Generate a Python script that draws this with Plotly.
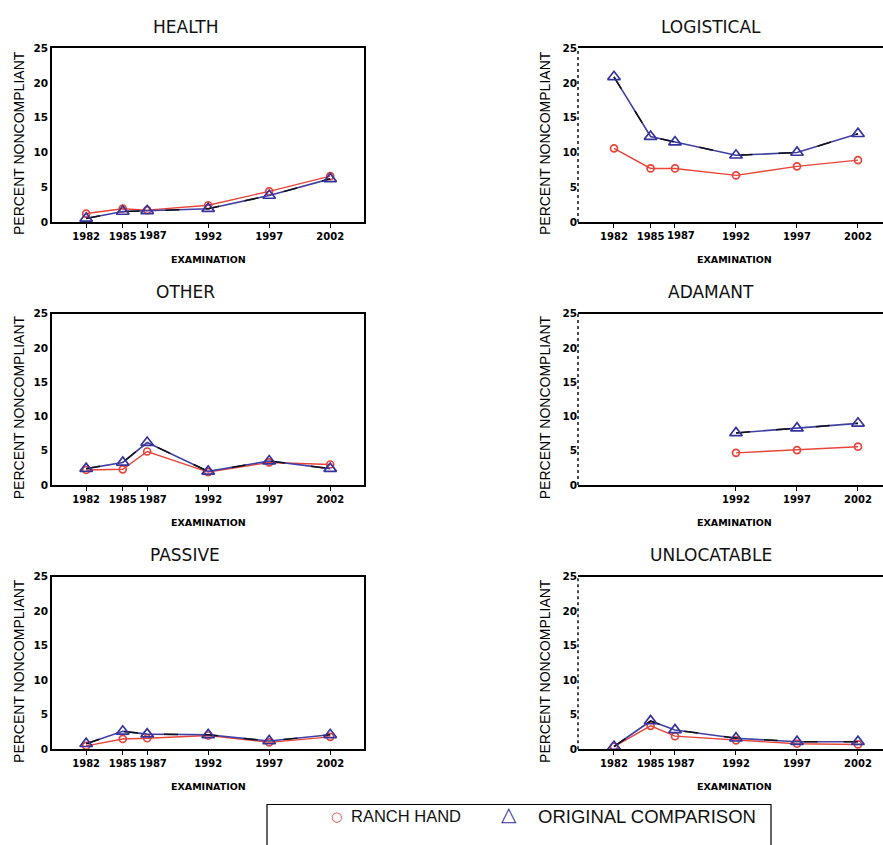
import plotly.graph_objects as go

W, H = 883, 845

# ---------------- data ----------------
years = [1982, 1985, 1987, 1992, 1997, 2002]
adamant_years = [1992, 1997, 2002]
y_ticks = [0, 5, 10, 15, 20, 25]

health_rh = [1.2, 1.9, 1.7, 2.4, 4.4, 6.6]
health_oc = [0.5, 1.5, 1.6, 1.9, 3.8, 6.2]
logistical_rh = [10.6, 7.7, 7.7, 6.7, 8.0, 8.9]
logistical_oc = [20.9, 12.3, 11.5, 9.6, 10.0, 12.7]
other_rh = [2.2, 2.3, 4.9, 1.9, 3.3, 3.0]
other_oc = [2.4, 3.3, 6.2, 2.0, 3.5, 2.4]
adamant_rh = [4.7, 5.1, 5.6]
adamant_oc = [7.6, 8.3, 9.0]
passive_rh = [0.5, 1.5, 1.6, 2.0, 1.0, 1.8]
passive_oc = [0.8, 2.6, 2.2, 2.1, 1.2, 2.1]
unloc_rh = [0.4, 3.4, 1.9, 1.3, 0.8, 0.7]
unloc_oc = [0.4, 4.1, 2.8, 1.6, 1.1, 1.1]

titles = ["HEALTH", "LOGISTICAL", "OTHER", "ADAMANT", "PASSIVE", "UNLOCATABLE"]
series_rh = [health_rh, logistical_rh, other_rh, adamant_rh, passive_rh, unloc_rh]
series_oc = [health_oc, logistical_oc, other_oc, adamant_oc, passive_oc, unloc_oc]
series_x = [years, years, years, adamant_years, years, years]

rh_name = "RANCH HAND"
oc_name = "ORIGINAL COMPARISON"
y_title = "PERCENT NONCOMPLIANT"
x_title = "EXAMINATION"
NUDGED_YEAR = 1987  # its label sits a little right of its tick in the original

# ---------------- layout geometry (pixels) ----------------
RED = "#e8453a"
BLUE = "#34349c"
LINE_OC = "#4040a4"

col_px = {0: (52, 364), 1: (578, 883)}
col_range = {0: [1979.2, 2004.77], 1: [1979.05, 2004.05]}
row_px = [(43, 219), (312, 486), (579, 754)]


def px_x(p):
    return p / W


def px_y(p):
    return 1 - p / H


fig = go.Figure()
layout = dict(
    width=W, height=H,
    margin=dict(l=0, r=0, t=0, b=0),
    paper_bgcolor="white", plot_bgcolor="white",
    showlegend=False,
    font=dict(family="Liberation Sans, Arial, sans-serif", color="black"),
)
annotations = []
shapes = []

xtick_font = dict(family="DejaVu Sans", size=10, color="black", weight="bold")
ytick_font = dict(family="DejaVu Sans", size=10.5, color="black", weight="bold")

for i in range(6):
    row, col = divmod(i, 2)
    n = "" if i == 0 else str(i + 1)
    xa, ya = "x" + n, "y" + n
    x0p, x1p = col_px[col]
    top, bot = row_px[row]
    xs = series_x[i]

    fig.add_trace(go.Scatter(
        x=xs, y=series_rh[i], xaxis=xa, yaxis=ya, name=rh_name,
        mode="lines+markers",
        line=dict(color=RED, width=1.4),
        marker=dict(symbol="circle-open", size=7, color=RED, line=dict(width=1.7, color=RED)),
    ))
    # comparison: blue line with black dash segments over it, then triangles
    fig.add_trace(go.Scatter(
        x=xs, y=series_oc[i], xaxis=xa, yaxis=ya, name=oc_name,
        mode="lines", line=dict(color=LINE_OC, width=1.6),
    ))
    fig.add_trace(go.Scatter(
        x=xs, y=series_oc[i], xaxis=xa, yaxis=ya, name=oc_name,
        mode="lines", line=dict(color="#111111", width=1.5, dash="14px,26px"),
    ))
    fig.add_trace(go.Scatter(
        x=xs, y=series_oc[i], xaxis=xa, yaxis=ya, name=oc_name,
        mode="markers",
        marker=dict(symbol="triangle-up-open", size=11, color=BLUE, line=dict(width=1.7, color=BLUE)),
    ))

    layout["xaxis" + n] = dict(
        domain=[px_x(x0p), min(1.0, px_x(x1p))],
        range=col_range[col], anchor=ya,
        tickvals=xs, ticktext=["" if v == NUDGED_YEAR else str(v) for v in xs],
        tickangle=0, ticklabeloverflow="allow",
        ticks="outside", ticklen=4, tickwidth=1.2, tickcolor="black",
        showline=True, linecolor="black", linewidth=1.6, mirror=True,
        showgrid=False, zeroline=False, tickfont=xtick_font, fixedrange=True,
    )
    layout["yaxis" + n] = dict(
        domain=[px_y(bot), px_y(top)],
        range=[0, 25], anchor=xa,
        tickvals=y_ticks, ticktext=[str(v) for v in y_ticks],
        ticks="", showline=(col == 0), linecolor="black", linewidth=1.6,
        mirror=(col == 0), ticklabeloverflow="allow",
        showgrid=False, zeroline=False, tickfont=ytick_font, fixedrange=True,
    )
    if col == 1:
        shapes.append(dict(type="line", xref=xa + " domain", yref=ya + " domain",
                           x0=0, x1=0, y0=0, y1=1,
                           line=dict(color="black", width=1.4, dash="dot")))
    if NUDGED_YEAR in xs:
        annotations.append(dict(
            text=str(NUDGED_YEAR), xref=xa, yref=ya + " domain",
            x=NUDGED_YEAR, y=0, xanchor="center", yanchor="middle",
            xshift=6, yshift=-14, showarrow=False, borderpad=0,
            font=xtick_font,
        ))

    # panel title
    annotations.append(dict(
        text=titles[i], xref="paper", yref="paper",
        x=px_x(x0p + 133), y=px_y(top - 22), xanchor="center", yanchor="middle",
        showarrow=False, font=dict(family="DejaVu Sans", size=17, color="#111"),
    ))
    # y-axis title
    annotations.append(dict(
        text=y_title, xref="paper", yref="paper", textangle=-90,
        x=px_x(x0p - 33), y=px_y((top + bot) / 2 + 8), xanchor="center", yanchor="middle",
        showarrow=False, font=dict(family="Liberation Sans", size=14, color="black"),
    ))
    # x-axis title
    annotations.append(dict(
        text=x_title, xref="paper", yref="paper",
        x=px_x(x0p + 156), y=px_y(bot + 38), xanchor="center", yanchor="middle",
        showarrow=False, font=dict(family="DejaVu Sans", size=9.5, color="black", weight="bold"),
    ))

# ---------------- legend box ----------------
shapes.append(dict(type="rect", xref="paper", yref="paper",
                   x0=px_x(267), x1=px_x(771), y0=px_y(810), y1=px_y(870),
                   line=dict(color="black", width=1.2), fillcolor="rgba(0,0,0,0)"))
annotations += [
    dict(text="○", xref="paper", yref="paper", x=px_x(336), y=px_y(822),
         xanchor="center", yanchor="middle", showarrow=False,
         font=dict(family="DejaVu Sans", size=13, color=RED)),
    dict(text=rh_name, xref="paper", yref="paper", x=px_x(349), y=px_y(822),
         xanchor="left", yanchor="middle", showarrow=False,
         font=dict(family="Liberation Sans", size=16.5, color="#111")),
    dict(text="△", xref="paper", yref="paper", x=px_x(509), y=px_y(820),
         xanchor="center", yanchor="middle", showarrow=False,
         font=dict(family="DejaVu Sans", size=20, color=BLUE)),
    dict(text=oc_name, xref="paper", yref="paper", x=px_x(536), y=px_y(822),
         xanchor="left", yanchor="middle", showarrow=False,
         font=dict(family="Liberation Sans", size=18.5, color="#111")),
]

layout["annotations"] = annotations
layout["shapes"] = shapes
fig.update_layout(**layout)

fig.write_html(
    "out.html",
    config={"displayModeBar": False},
    post_script="document.body.style.margin='0';document.body.style.overflow='hidden';",
)
